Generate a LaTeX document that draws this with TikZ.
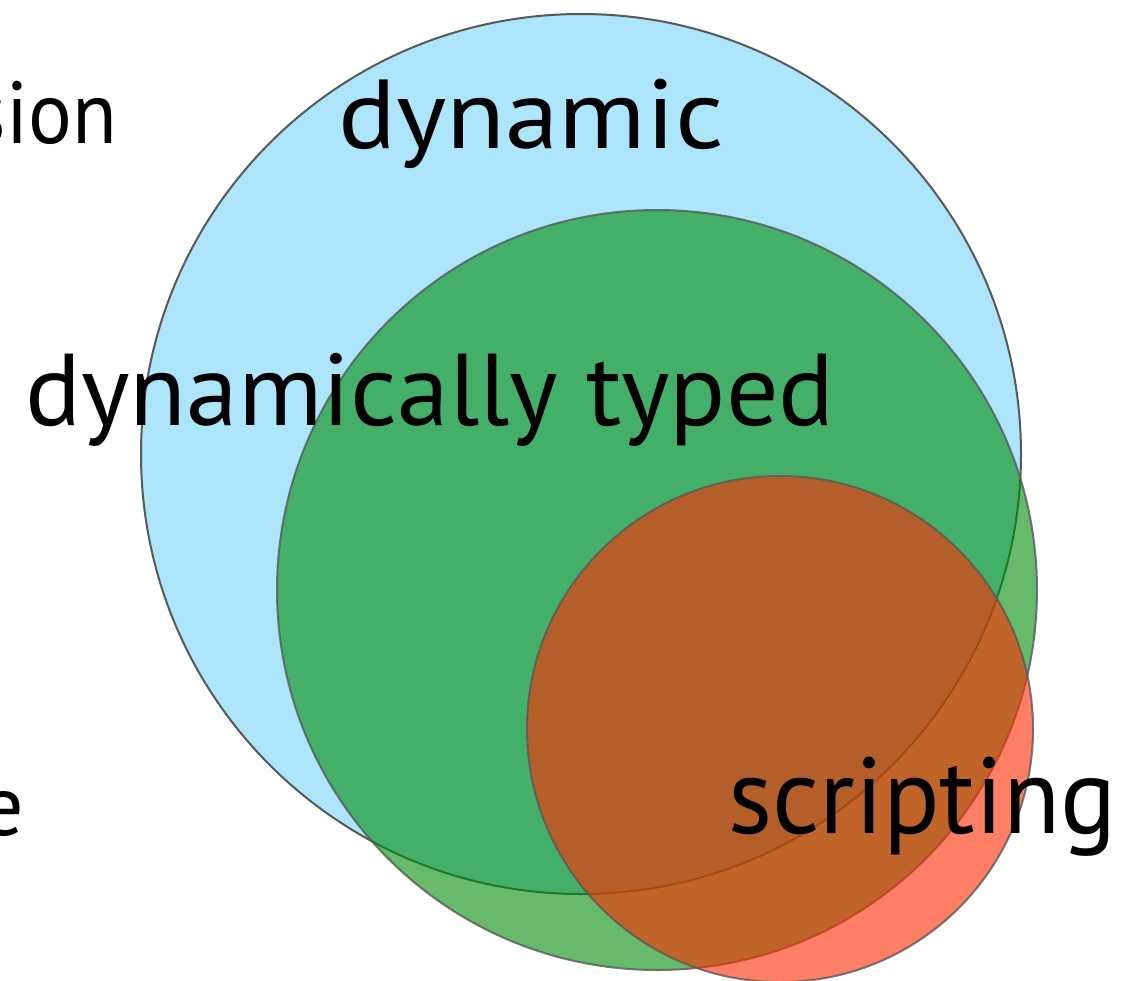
\documentclass[tikz,border=0pt]{standalone}
\usepackage{fontspec}
\usepackage{graphicx}
\setmainfont{PT Sans}
\begin{document}
\begin{tikzpicture}[x=1pt,y=-1pt,
  setedge/.style={draw=black!65, line width=2pt},
  lbl/.style={inner sep=0pt, anchor=base west, text=black}]
\useasboundingbox (0,0) rectangle (1135,980);
\begin{scope}
\clip (0,0) rectangle (1135,980);
\fill[white] (0,0) rectangle (1135,980);
\path[setedge, fill={rgb,255:red,172;green,229;blue,252}] (581,454) circle[radius=440pt];
\path[setedge, fill={rgb,255:red,0;green,140;blue,8}, fill opacity=0.6, draw opacity=0.8] (657,590) circle[radius=380pt];
\path[setedge, fill={rgb,255:red,255;green,43;blue,0}, fill opacity=0.6, draw opacity=0.8] (780,729) circle[radius=253pt];
\node[lbl, font=\fontsize{98}{98}\selectfont] (dyn) at (338,148) {\scalebox{1.10}[1]{dynamic}};
\node[lbl, font=\fontsize{102}{102}\selectfont] (dt) at (25,425) {\scalebox{1.02}[1]{dynamically typed}};
\node[lbl, font=\fontsize{108}{108}\selectfont] (scr) at (728,833) {\scalebox{0.97}[1]{scripting}};
\node[lbl, font=\fontsize{88}{88}\selectfont, anchor=base east] (sion) at (117,143) {\scalebox{0.93}[1]{sion}};
\node[lbl, font=\fontsize{86}{86}\selectfont, anchor=base east] (e) at (24,835) {e};
\end{scope}
\end{tikzpicture}
\end{document}
